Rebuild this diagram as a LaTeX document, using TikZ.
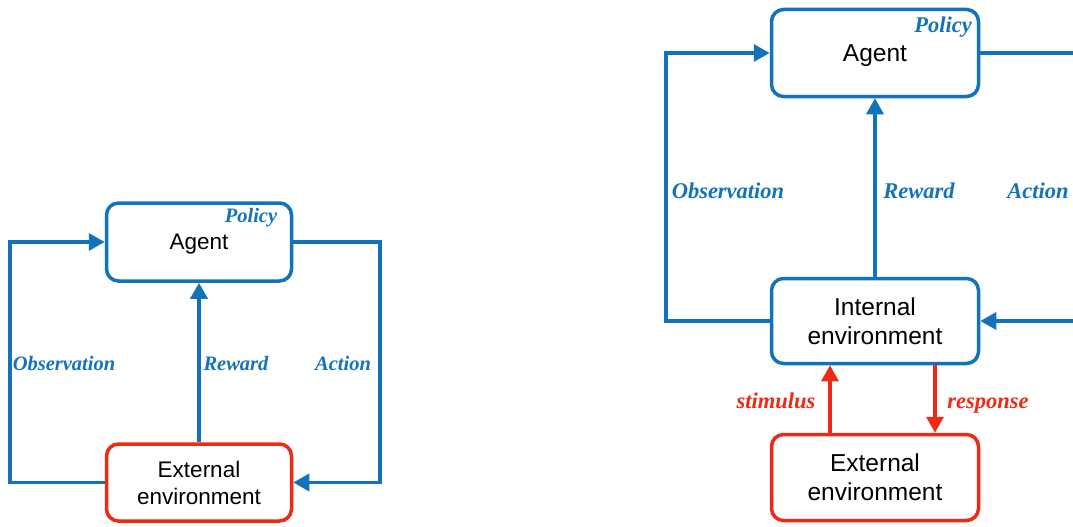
\documentclass[tikz,border=0pt]{standalone}
\usepackage{fontspec}
\setmainfont{Liberation Sans}
\newfontfamily\lblfont{Liberation Serif}
\usetikzlibrary{arrows.meta}
\definecolor{cblue}{RGB}{18,115,186}
\definecolor{cred}{RGB}{236,42,22}
\begin{document}
\begin{tikzpicture}[x=1pt,y=-1pt,
  box/.style={draw, line width=3.5pt, rounded corners=12pt, fill=white, align=center, inner sep=0pt, text=black},
  bluebox/.style={box, draw=cblue},
  redbox/.style={box, draw=cred},
  smallfont/.style={font=\fontsize{22.5}{27}\selectfont},
  bigfont/.style={font=\fontsize{24.5}{29}\selectfont},
  conn/.style={line width=3.5pt, draw=cblue, -{Triangle[length=16pt,width=17pt]}},
  rconn/.style={line width=3.5pt, draw=cred, -{Triangle[length=16pt,width=17pt]}},
  lblS/.style={font=\lblfont\bfseries\itshape\fontsize{20.5}{24}\selectfont, text=cblue, anchor=base},
  lblB/.style={font=\lblfont\bfseries\itshape\fontsize{22.5}{26}\selectfont, text=cblue, anchor=base},
  lblR/.style={font=\lblfont\bfseries\itshape\fontsize{22.5}{26}\selectfont, text=cred, anchor=base}
]
\useasboundingbox (0,0) rectangle (1073,527);

% ---------- left diagram ----------
\node[bluebox, smallfont, minimum width=185pt, minimum height=78pt, text depth=0pt] (agL) at (199,242) {Agent};
\node[redbox, smallfont, minimum width=185pt, minimum height=77pt] (exL) at (199,482.5) {External\\environment};
\node[lblS] (polL) at (251,222) {Policy};

\coordinate (oLx) at (10,0);
\coordinate (aLx) at (380,0);
\draw[conn] (exL.west) -- (exL.west -| oLx) |- (agL.west);
\draw[conn] (agL.east) -- (agL.east -| aLx) |- (exL.east);
\draw[conn] (exL.north) -- (agL.south);

\node[lblS] (obsL) at (64,370) {Observation};
\node[lblS] (rewL) at (236,370) {Reward};
\node[lblS] (actL) at (343,370) {Action};

% ---------- right diagram ----------
\node[bluebox, bigfont, minimum width=207pt, minimum height=87pt, text depth=0pt] (agR) at (875,53) {Agent};
\node[bluebox, bigfont, minimum width=207pt, minimum height=85pt] (inR) at (875,321) {Internal\\environment};
\node[redbox, bigfont, minimum width=207pt, minimum height=86pt] (exR) at (875,477.5) {External\\environment};
\node[lblB] (polR) at (943,33) {Policy};

\coordinate (oRx) at (666,0);
\coordinate (aRx) at (1110,0);
\coordinate (sx) at (830,0);
\coordinate (rx) at (935,0);
\draw[conn] (inR.west) -- (inR.west -| oRx) |- (agR.west);
\draw[conn] (agR.east) -- (agR.east -| aRx) |- (inR.east);
\draw[conn] (inR.north) -- (agR.south);
\draw[rconn] (exR.north -| sx) -- (inR.south -| sx);
\draw[rconn] (inR.south -| rx) -- (exR.north -| rx);

\node[lblB] (obsR) at (728,198) {Observation};
\node[lblB] (rewR) at (919,198) {Reward};
\node[lblB] (actR) at (1038,198) {Action};
\node[lblR] (stim) at (776,408) {stimulus};
\node[lblR] (resp) at (988,408) {response};
\end{tikzpicture}
\end{document}
